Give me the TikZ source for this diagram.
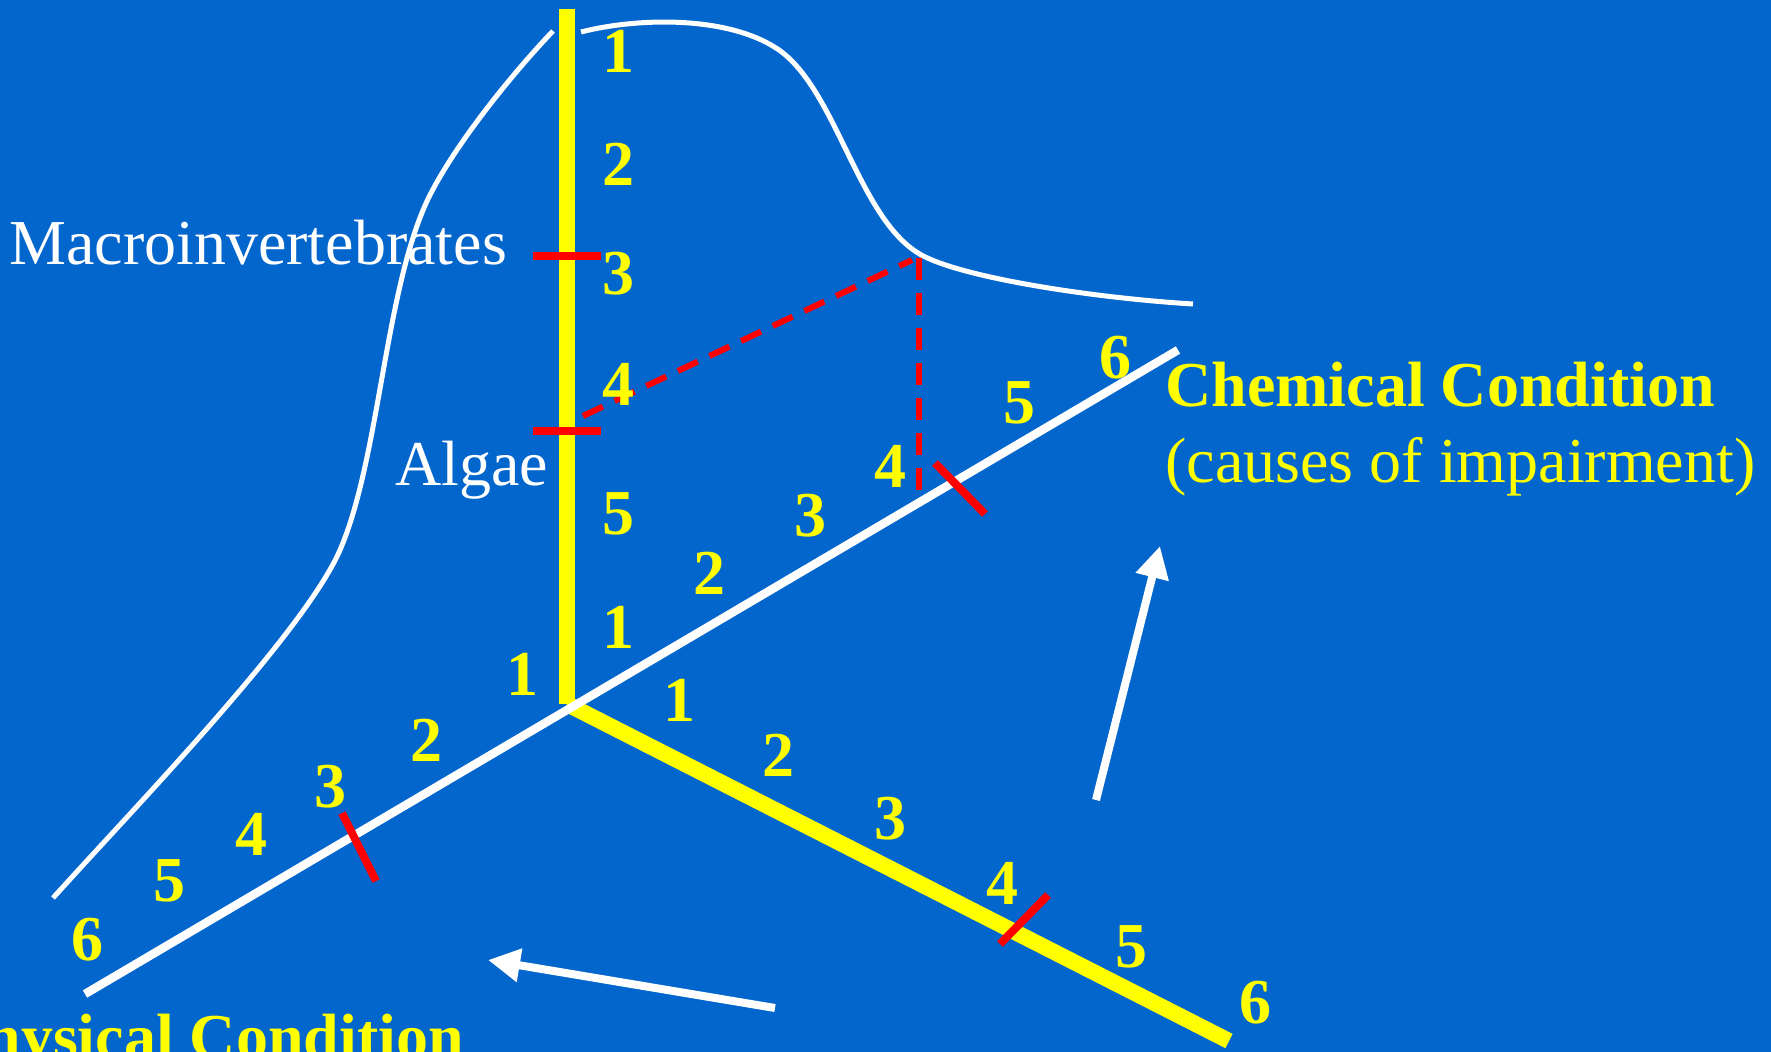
\documentclass[tikz,border=0pt]{standalone}
\usepackage{fontspec}
\setmainfont{Liberation Serif}
\usetikzlibrary{arrows.meta}
\definecolor{bg}{RGB}{3,102,204}
\definecolor{ylw}{RGB}{255,255,0}
\definecolor{rd}{RGB}{255,0,0}
\begin{document}
\begin{tikzpicture}[x=0.5pt,y=-0.5pt,
  num/.style={text=ylw, font=\fontsize{32}{38}\selectfont\bfseries, inner sep=0pt},
  lbl/.style={text=white, font=\fontsize{32}{38}\selectfont, inner sep=0pt, anchor=base west},
  ttl/.style={text=ylw, font=\fontsize{32}{38}\selectfont\bfseries, inner sep=0pt, anchor=base west},
  sub/.style={text=ylw, font=\fontsize{32}{38}\selectfont, inner sep=0pt, anchor=base west},
  yaxis/.style={draw=ylw, line width=8pt},
  waxis/.style={draw=white, line width=4.25pt},
  curve/.style={draw=white, line width=2.5pt},
  tickmark/.style={draw=rd, line width=4pt},
  guide/.style={draw=rd, line width=3pt, dash pattern=on 11pt off 6.5pt},
  arr/.style={draw=white, line width=4pt, -{Triangle[length=16pt,width=16pt]}}]
\useasboundingbox (0,0) rectangle (1771,1052);
\fill[bg] (0,0) rectangle (1771,1052);
\clip (0,0) rectangle (1771,1052);

% axes coordinates
\coordinate (O) at (567,704);
\coordinate (vtop) at (567,9);
\coordinate (wl) at (85,994);
\coordinate (wr) at (1178,350);
\coordinate (yr) at (1229,1041);

% response curve
\draw[curve] (53,898) .. controls (133,809) and (304,633) .. (340,550)
  .. controls (380,458) and (385,284) .. (430,195)
  .. controls (457,142) and (512,74) .. (553,31);
\draw[curve] (581,32) .. controls (640,17) and (730,16) .. (779,50)
  .. controls (836,90) and (858,216) .. (918,253)
  .. controls (956,277) and (1093,298) .. (1193,304);

% axes
\draw[yaxis] (vtop) -- (O);
\draw[yaxis] (O) -- (yr);
\draw[waxis] (wl) -- (wr);

% red guides
\coordinate (g1) at (583,416);
\coordinate (g2) at (912,260);
\coordinate (g3) at (919,258);
\coordinate (g4) at (919,495);
\draw[guide] (g1) -- (g2);
\draw[guide] (g3) -- (g4);

% red ticks
\coordinate (t1a) at (533,256); \coordinate (t1b) at (601,256);
\coordinate (t2a) at (533,431); \coordinate (t2b) at (601,431);
\coordinate (t3a) at (935,463); \coordinate (t3b) at (985,514);
\coordinate (t4a) at (342,813); \coordinate (t4b) at (376,881);
\coordinate (t5a) at (1000,944); \coordinate (t5b) at (1048,895);
\draw[tickmark] (t1a) -- (t1b);
\draw[tickmark] (t2a) -- (t2b);
\draw[tickmark] (t3a) -- (t3b);
\draw[tickmark] (t4a) -- (t4b);
\draw[tickmark] (t5a) -- (t5b);

% vertical axis numbers
\node[num] (v1) at (618,51) {1};
\node[num] (v2) at (618,164) {2};
\node[num] (v3) at (618,274) {3};
\node[num] (v4) at (618,384) {4};
\node[num] (v5) at (618,514) {5};
% chemical axis numbers
\node[num] (c1) at (618,627) {1};
\node[num] (c2) at (709,573) {2};
\node[num] (c3) at (810,516) {3};
\node[num] (c4) at (890,466) {4};
\node[num] (c5) at (1019,403) {5};
\node[num] (c6) at (1115,358) {6};
% lower right axis numbers
\node[num] (r1) at (679,700) {1};
\node[num] (r2) at (778,755) {2};
\node[num] (r3) at (890,819) {3};
\node[num] (r4) at (1002,883) {4};
\node[num] (r5) at (1131,947) {5};
\node[num] (r6) at (1255,1003) {6};
% physical axis numbers
\node[num] (p1) at (522,674) {1};
\node[num] (p2) at (426,740) {2};
\node[num] (p3) at (330,787) {3};
\node[num] (p4) at (251,834) {4};
\node[num] (p5) at (169,881) {5};
\node[num] (p6) at (87,940) {6};

% labels
\node[lbl] (macro) at (9,265) {Macroinvertebrates};
\node[lbl] (algae) at (395,486) {Algae};
\node[ttl] (chem) at (1165,407) {Chemical Condition};
\node[sub] (cause) at (1165,483) {(causes of impairment)};
\node[ttl] (phys) at (-54,1058) {Physical Condition};

% arrows
\coordinate (a1s) at (775,1008); \coordinate (a1e) at (488,960);
\coordinate (a2s) at (1096,800); \coordinate (a2e) at (1160,546);
\draw[arr] (a1s) -- (a1e);
\draw[arr] (a2s) -- (a2e);
\end{tikzpicture}
\end{document}
